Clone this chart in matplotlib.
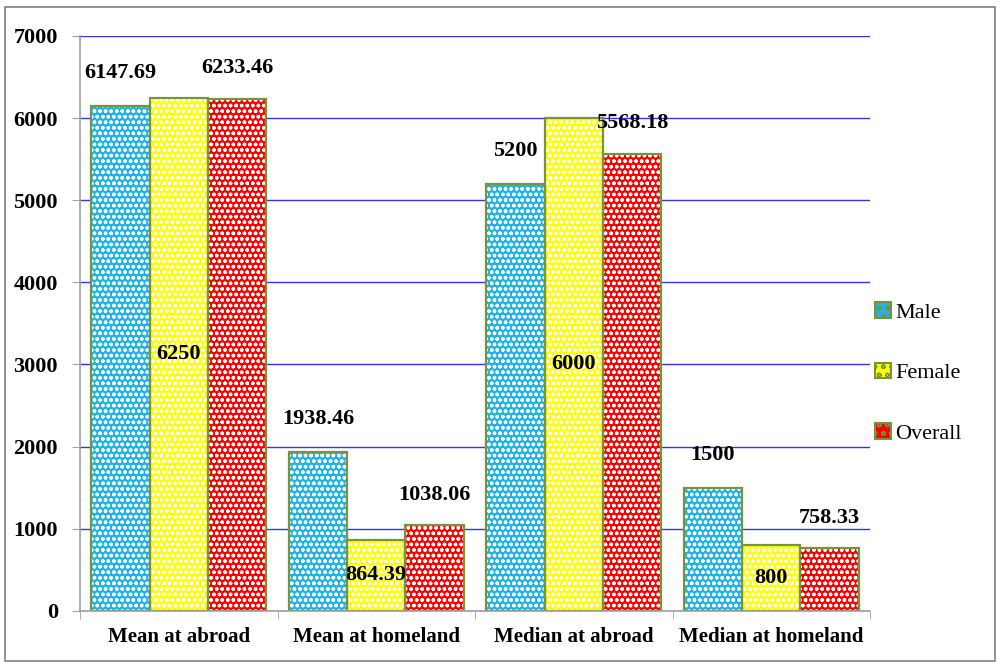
import matplotlib
matplotlib.use("Agg")
import matplotlib.pyplot as plt
import numpy as np
from matplotlib.patches import Rectangle

# data
categories = ["Mean at abroad", "Mean at homeland", "Median at abroad", "Median at homeland"]
male = [6147.69, 1938.46, 5200, 1500]
female = [6250, 864.39, 6000, 800]
overall = [6233.46, 1038.06, 5568.18, 758.33]
male_txt = ["6147.69", "1938.46", "5200", "1500"]
female_txt = ["6250", "864.39", "6000", "800"]
overall_txt = ["6233.46", "1038.06", "5568.18", "758.33"]

plt.rcParams["font.family"] = ["Liberation Serif", "DejaVu Serif"]
plt.rcParams["hatch.linewidth"] = 1.0

fig = plt.figure(figsize=(10, 6.66), dpi=100)
ax = fig.add_axes([0.08, 0.083, 0.79, 0.863])

x = np.arange(len(categories))
w = 0.295
edge = "#77933C"
series = [
    (male, "#1FB4E8", "Male", -w),
    (female, "#FFFF00", "Female", 0),
    (overall, "#FF0000", "Overall", w),
]
for vals, col, name, off in series:
    ax.bar(x + off, vals, w, color=col, edgecolor="white", hatch="ooo", linewidth=0, zorder=2)
    ax.bar(x + off, vals, w, fill=False, edgecolor=edge, linewidth=1.6, zorder=3)

lab = dict(ha="center", fontsize=16, fontweight="bold", zorder=4)
for i in range(len(categories)):
    ax.text(x[i] - w, male[i] + 280, male_txt[i], va="bottom", **lab)
    ax.text(x[i], female[i] / 2, female_txt[i], va="center", **lab)
    ax.text(x[i] + w, overall[i] + 250, overall_txt[i], va="bottom", **lab)

ax.set_xlim(-0.5, 3.5)
ax.set_ylim(0, 7000)
ax.set_yticks(range(0, 7001, 1000))
ax.set_xticks(x)
ax.set_xticklabels(categories, fontsize=15, fontweight="bold")
ax.set_xticks(np.arange(-0.5, 3.6, 1), minor=True)
ax.tick_params(axis="x", which="major", length=0, pad=12)
ax.tick_params(axis="x", which="minor", length=6, color="#A0A0A0", direction="out")
ax.tick_params(axis="y", length=6, color="#A0A0A0", labelsize=16, pad=10)
for t in ax.get_yticklabels():
    t.set_fontweight("bold")

ax.yaxis.grid(True, color="#3333EE", linewidth=1.0, zorder=1)
ax.set_axisbelow(True)
for s in ["top", "right"]:
    ax.spines[s].set_visible(False)
for s in ["left", "bottom"]:
    ax.spines[s].set_color("#A0A0A0")
    ax.spines[s].set_linewidth(1.2)
    ax.spines[s].set_zorder(5)

handles = [Rectangle((0, 0), 1, 1, facecolor=c, edgecolor=edge, hatch="oo", linewidth=1.5)
           for _, c, _, _ in series]
names = [n for _, _, n, _ in series]
leg = fig.legend(handles, names, loc="center left", bbox_to_anchor=(0.855, 0.44),
                 frameon=False, fontsize=16, handlelength=0.7, handleheight=0.7,
                 handletextpad=0.2, labelspacing=1.8)

fig.patches.append(Rectangle((0.005, 0.008), 0.99, 0.982, transform=fig.transFigure,
                             fill=False, edgecolor="#808080", linewidth=1.2))

fig.savefig("out.png", dpi=100)
